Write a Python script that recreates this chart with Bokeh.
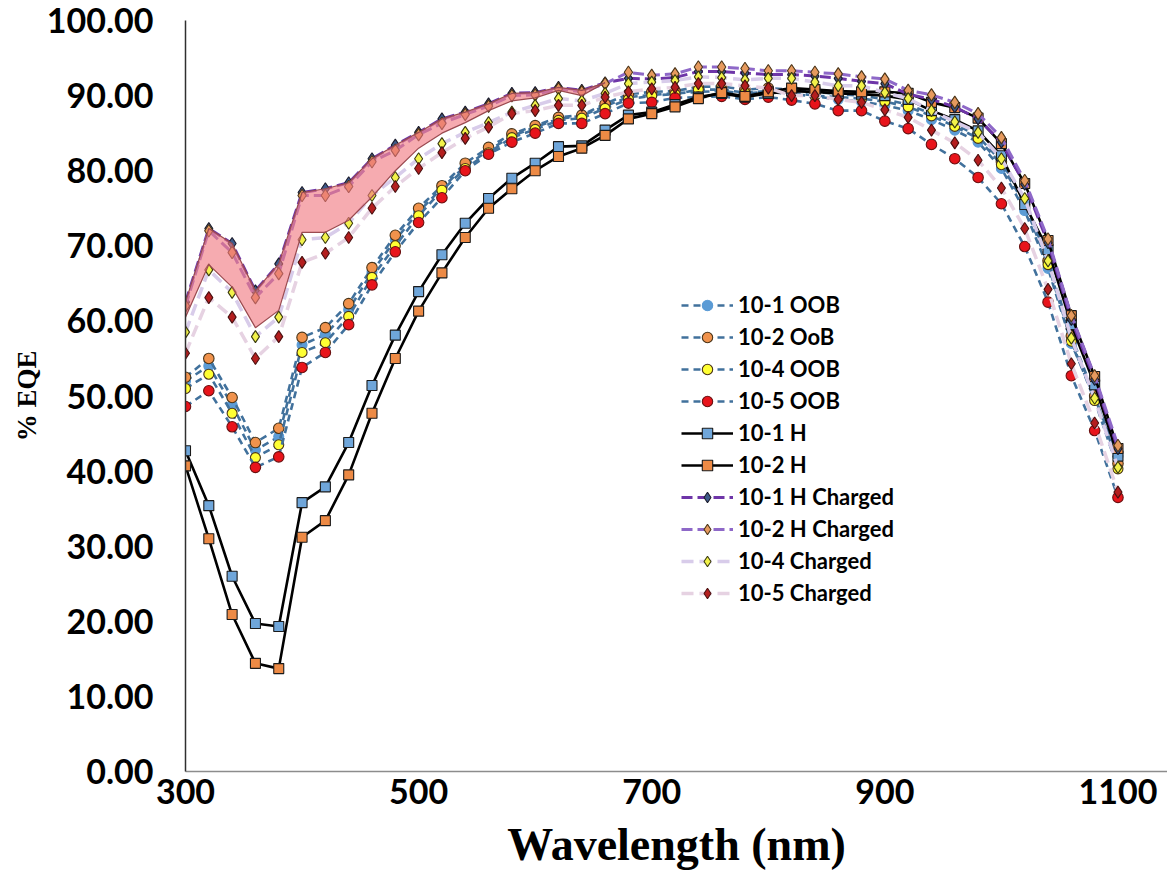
from bokeh.plotting import figure
from bokeh.models import Range1d, FixedTicker, PrintfTickFormatter, Legend, LegendItem
from bokeh.embed import file_html
from bokeh.resources import INLINE

wavelength = [300, 320, 340, 360, 380, 400, 420, 440, 460, 480, 500, 520, 540, 560, 580,
              600, 620, 640, 660, 680, 700, 720, 740, 760, 780, 800, 820, 840, 860, 880,
              900, 920, 940, 960, 980, 1000, 1020, 1040, 1060, 1080, 1100]

oob_10_1 = [52.0, 54.0, 48.8, 42.8, 44.6, 56.8, 58.2, 61.5, 66.5, 70.8, 74.5, 77.7, 80.6, 82.7,
            84.6, 85.8, 86.9, 87.3, 88.6, 89.8, 90.1, 90.3, 90.5, 90.6, 90.3, 90.5, 90.2, 89.9,
            89.5, 89.2, 88.7, 88.0, 86.8, 85.4, 83.8, 80.3, 74.7, 67.0, 57.0, 49.8, 42.0]
oob_10_2 = [52.5, 55.0, 49.8, 43.8, 45.7, 57.8, 59.1, 62.3, 67.1, 71.4, 75.0, 78.0, 81.0, 83.1,
            84.9, 86.0, 87.1, 87.4, 88.9, 90.2, 90.5, 90.6, 91.2, 91.2, 90.8, 91.0, 90.8, 90.5,
            90.2, 90.0, 89.5, 88.8, 87.6, 86.2, 84.6, 81.2, 76.0, 68.0, 58.0, 50.0, 41.0]
oob_10_4 = [51.0, 52.9, 47.7, 41.8, 43.5, 55.8, 57.1, 60.6, 65.8, 70.0, 74.0, 77.4, 80.3, 82.4,
            84.4, 85.5, 86.7, 87.0, 88.3, 89.5, 90.0, 90.2, 90.8, 90.8, 90.4, 90.6, 90.4, 90.0,
            89.8, 89.6, 89.2, 88.5, 87.3, 85.9, 84.3, 80.8, 75.5, 67.5, 57.3, 49.4, 40.3]
oob_10_5 = [48.6, 50.7, 45.9, 40.5, 41.9, 53.8, 55.8, 59.5, 64.8, 69.2, 73.1, 76.4, 80.0, 82.2,
            83.8, 85.0, 86.3, 86.3, 87.6, 89.0, 89.1, 89.7, 89.8, 89.9, 89.5, 89.8, 89.4, 88.9,
            88.0, 88.0, 86.6, 85.6, 83.5, 81.6, 79.1, 75.6, 69.9, 62.5, 52.7, 45.4, 36.5]
h_10_1 = [42.7, 35.4, 26.0, 19.7, 19.3, 35.8, 37.9, 43.8, 51.4, 58.1, 63.9, 68.8, 73.0, 76.3,
          79.0, 81.0, 83.2, 83.3, 85.4, 87.4, 87.8, 88.8, 89.8, 90.3, 89.8, 90.3, 90.6, 90.5,
          90.3, 90.2, 90.0, 89.5, 88.0, 86.8, 85.3, 82.0, 75.5, 69.5, 59.5, 51.5, 42.0]
h_10_2 = [40.7, 31.0, 20.9, 14.4, 13.7, 31.2, 33.4, 39.5, 47.7, 55.0, 61.3, 66.4, 71.1, 75.0,
          77.6, 80.0, 81.9, 83.0, 84.7, 86.9, 87.6, 88.5, 89.6, 90.4, 89.9, 90.5, 91.0, 90.8,
          90.6, 90.5, 90.5, 90.3, 89.1, 88.4, 87.0, 83.6, 78.3, 70.7, 60.7, 52.6, 43.0]
hc_10_1 = [62.5, 72.3, 70.3, 64.0, 67.6, 77.1, 77.6, 78.4, 81.6, 83.4, 85.1, 86.9, 87.8, 88.9,
           90.3, 90.4, 91.1, 90.7, 91.7, 92.3, 92.2, 92.4, 93.2, 93.2, 93.0, 92.8, 92.8, 92.6,
           92.3, 91.9, 91.6, 90.2, 89.5, 88.5, 86.9, 83.8, 78.2, 70.4, 60.2, 52.2, 43.0]
hc_10_2 = [62.0, 72.0, 69.1, 63.1, 66.3, 76.7, 76.7, 77.9, 81.2, 82.7, 84.8, 86.3, 87.5, 88.6,
           90.0, 90.1, 90.9, 90.5, 91.6, 93.1, 92.7, 92.9, 93.8, 93.8, 93.6, 93.3, 93.3, 93.1,
           92.9, 92.5, 92.2, 90.7, 90.1, 89.1, 87.6, 84.4, 78.7, 70.9, 60.7, 52.7, 43.4]
c_10_4 = [58.5, 66.8, 63.8, 57.9, 60.5, 70.8, 71.1, 73.0, 76.7, 79.1, 81.6, 83.6, 85.1, 86.4,
          87.8, 88.7, 89.6, 89.3, 90.3, 91.6, 91.8, 92.0, 92.5, 92.4, 92.1, 92.3, 92.3, 91.8,
          91.3, 91.3, 90.4, 89.6, 88.0, 86.5, 85.1, 81.6, 76.3, 68.0, 57.7, 49.7, 40.5]
c_10_5 = [55.7, 63.1, 60.5, 55.0, 57.9, 67.8, 69.0, 71.1, 75.0, 77.9, 80.3, 82.4, 84.3, 85.8,
          87.6, 88.0, 88.7, 88.7, 89.8, 90.5, 90.9, 91.1, 91.6, 91.6, 91.3, 91.0, 90.0, 90.0,
          89.5, 89.1, 88.1, 87.1, 85.4, 83.7, 81.4, 77.7, 72.3, 64.2, 54.3, 46.4, 37.2]

# highlighted band (300-660 nm)
band_wl = wavelength[:19]
band_upper = [max(a, b) for a, b in zip(hc_10_1[:19], hc_10_2[:19])]
band_lower = [60.5, 67.5, 64.5, 59.1, 61.4, 71.8, 71.8, 73.4, 76.5, 80.0, 83.0, 85.0, 86.4,
              88.0, 89.3, 89.7, 90.7, 90.0, 91.7]

x_ticks = [300, 500, 700, 900, 1100]
y_ticks = [0, 10, 20, 30, 40, 50, 60, 70, 80, 90, 100]

p = figure(width=1167, height=884, x_range=Range1d(300, 1142.5), y_range=Range1d(0, 100),
           output_backend="svg", toolbar_location=None,
           min_border_left=185, min_border_top=20, min_border_bottom=113, min_border_right=0)
p.xgrid.visible = False
p.ygrid.visible = False
p.outline_line_color = None
p.background_fill_color = "white"

TICK_FONT = "Lato"
for ax in (p.xaxis[0], p.yaxis[0]):
    ax.major_label_text_font = TICK_FONT
    ax.major_label_text_font_style = "bold"
    ax.major_label_text_font_size = "34px"
    ax.major_label_text_color = "black"
    ax.major_tick_out = 0
    ax.major_tick_in = 0
    ax.minor_tick_out = 0
    ax.minor_tick_in = 0
    ax.axis_label_text_font = "Liberation Serif"
    ax.axis_label_text_font_style = "bold"
    ax.axis_label_text_color = "black"

p.xaxis.ticker = FixedTicker(ticks=x_ticks)
p.yaxis.ticker = FixedTicker(ticks=y_ticks)
p.yaxis.formatter = PrintfTickFormatter(format="%.2f")
p.xaxis.axis_label = "Wavelength (nm)"
p.yaxis.axis_label = "% EQE"
p.xaxis.axis_label_text_font_size = "46px"
p.yaxis.axis_label_text_font_size = "27px"
p.xaxis.major_label_standoff = 7
p.yaxis.major_label_standoff = 32
p.xaxis.axis_label_standoff = 12
p.yaxis.axis_label_standoff = 2
p.xaxis.axis_line_color = "#8c8c8c"
p.xaxis.axis_line_width = 1.5
p.yaxis.axis_line_color = "#303030"
p.yaxis.axis_line_width = 1.5

OOB_LINE = "#41719C"
OUT = "#4a3418"

items = []

def series(label, yvals, line_color, line_width, dash, marker, fill, size, outline):
    lr = p.line(wavelength, yvals, line_color=line_color, line_width=line_width,
                line_dash=dash)
    sr = p.scatter(wavelength, yvals, marker=marker, size=size, fill_color=fill,
                   line_color=outline, line_width=1.1)
    items.append(LegendItem(label=label, renderers=[lr, sr]))

series("10-1 OOB", oob_10_1, OOB_LINE, 2.6, "7 5", "circle", "#5B9BD5", 10, "#5B9BD5")
series("10-2 OoB", oob_10_2, OOB_LINE, 2.6, "7 5", "circle", "#F0924C", 10.5, OUT)
series("10-4 OOB", oob_10_4, OOB_LINE, 2.6, "7 5", "circle", "#FFFF33", 10, OUT)
series("10-5 OOB", oob_10_5, OOB_LINE, 2.6, "7 5", "circle", "#E8141B", 10.5, "#6a1010")
series("10-1 H", h_10_1, "black", 2.6, "solid", "square", "#6FA6DA", 10, "#1a1a1a")
series("10-2 H", h_10_2, "black", 2.6, "solid", "square", "#ED8A45", 10, "#1a1a1a")
series("10-1 H Charged", hc_10_1, "#6E35A8", 3.0, "11 5", "diamond", "#3E5A8A", 12, "#1a1a2a")
series("10-2 H Charged", hc_10_2, "#8E68C8", 3.0, "11 5", "diamond", "#E69A5E", 12.5, OUT)
series("10-4 Charged", c_10_4, "#D8CCEA", 3.5, "12 6", "diamond", "#F2F24A", 12, "#3a3a10")
series("10-5 Charged", c_10_5, "#E6D2E2", 3.5, "12 6", "diamond", "#B41E1E", 12, "#4a1010")

# translucent highlight band on top
p.patch(band_wl + band_wl[::-1], band_upper + band_lower[::-1],
        fill_color="#F07880", fill_alpha=0.62, line_color="#9A4A50", line_width=1.2)

legend = Legend(items=items, location=(496, 165), orientation="vertical")
legend.background_fill_alpha = 0
legend.border_line_alpha = 0
legend.padding = 0
legend.margin = 0
legend.spacing = 5
legend.glyph_height = 26
legend.label_height = 26
legend.glyph_width = 52
legend.label_standoff = 5
legend.label_text_font = TICK_FONT
legend.label_text_font_style = "bold"
legend.label_text_font_size = "22px"
legend.label_text_color = "black"
p.add_layout(legend)

open("out.html", "w").write(file_html(p, INLINE))
